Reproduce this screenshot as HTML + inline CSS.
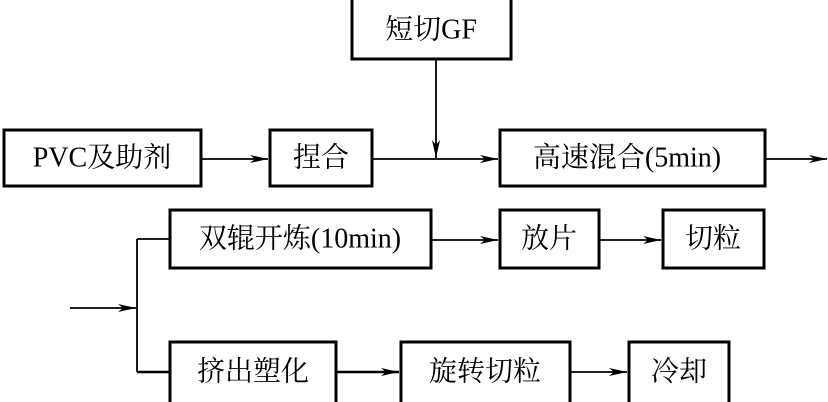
<!DOCTYPE html>
<html><head><meta charset="utf-8"><style>
html,body{margin:0;padding:0;background:#fff;}
svg{display:block}
text{font-family:"Liberation Serif","Noto Serif CJK SC",serif;font-size:28px;fill:#000;dominant-baseline:central;text-anchor:middle}
rect{fill:#fff;stroke:#000;stroke-width:3}
line{stroke:#000;stroke-width:1.8}
</style></head><body>
<svg width="828" height="402" viewBox="0 0 828 402">
<defs>
<marker id="a" markerWidth="20" markerHeight="10" refX="18" refY="5" orient="auto" markerUnits="userSpaceOnUse">
<path d="M0,1 L18,5 L0,9 L5,5 Z" fill="#000"/>
</marker>
</defs>
<!-- top row -->
<rect x="352" y="-2" width="159" height="61"/>
<text x="431" y="30">短切GF</text>
<rect x="4" y="130" width="197" height="56"/>
<text x="102" y="158">PVC及助剂</text>
<rect x="270" y="130" width="102" height="56"/>
<text x="321" y="158">捏合</text>
<rect x="500" y="130" width="265" height="56"/>
<text x="627" y="158">高速混合(5min)</text>
<line x1="201" y1="159" x2="268" y2="159" marker-end="url(#a)"/>
<line x1="372" y1="159" x2="498" y2="159" marker-end="url(#a)"/>
<line x1="436" y1="59" x2="436" y2="158" marker-end="url(#a)"/>
<line x1="765" y1="159" x2="827" y2="159" marker-end="url(#a)"/>
<!-- branch -->
<line x1="70" y1="308" x2="136" y2="308" marker-end="url(#a)"/>
<line x1="137" y1="239" x2="137" y2="372"/>
<line x1="137" y1="239" x2="170" y2="239"/>
<line x1="137" y1="372" x2="170" y2="372" style="stroke-width:2.5"/>
<!-- middle row -->
<rect x="170" y="210" width="261" height="58"/>
<text x="300" y="239">双辊开炼(10min)</text>
<rect x="500" y="210" width="99" height="58"/>
<text x="549" y="239">放片</text>
<rect x="663" y="210" width="101" height="58"/>
<text x="713" y="239">切粒</text>
<line x1="431" y1="240" x2="498" y2="240" marker-end="url(#a)"/>
<line x1="599" y1="240" x2="661" y2="240" marker-end="url(#a)"/>
<!-- bottom row -->
<rect x="170" y="342" width="166" height="62"/>
<text x="253" y="372">挤出塑化</text>
<rect x="401" y="342" width="169" height="62"/>
<text x="485" y="372">旋转切粒</text>
<rect x="629" y="342" width="100" height="62"/>
<text x="679" y="372">冷却</text>
<line x1="336" y1="372" x2="399" y2="372" marker-end="url(#a)" style="stroke-width:2.5"/>
<line x1="570" y1="372" x2="627" y2="372" marker-end="url(#a)"/>
</svg>
</body></html>
